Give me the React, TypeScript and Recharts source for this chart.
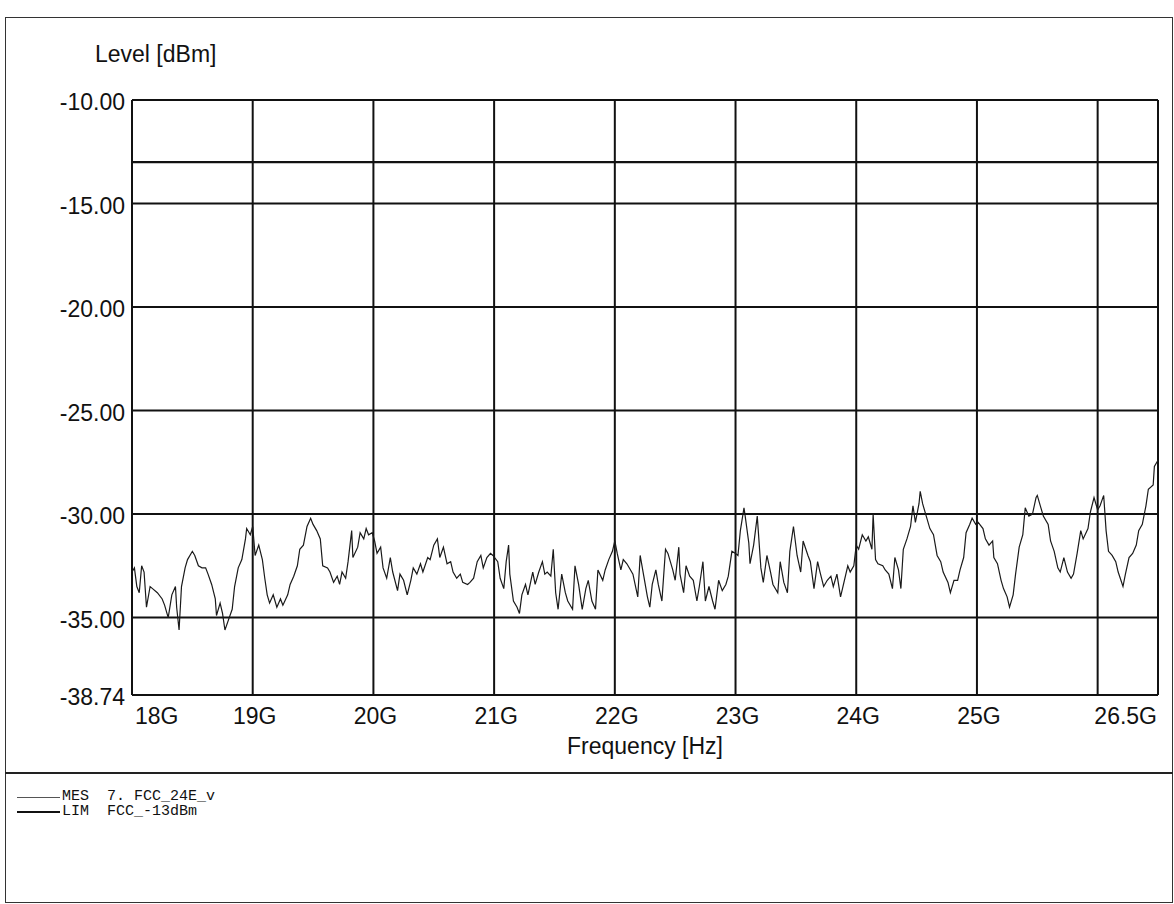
import { CartesianGrid, Line, LineChart, ReferenceLine, XAxis, YAxis } from "recharts";

// MES trace as [GHz, dBm] per stretch of the sweep
const mes18 = [
  [18.0, -32.8], [18.02, -32.6], [18.04, -33.5], [18.06, -33.8], [18.08, -32.5], [18.1, -32.8],
  [18.12, -34.5], [18.15, -33.5], [18.17, -33.6], [18.21, -33.8], [18.25, -34.1], [18.27, -34.4],
  [18.3, -35.0], [18.33, -33.9], [18.36, -33.5], [18.37, -34.5], [18.39, -35.6], [18.41, -33.5],
  [18.44, -32.6], [18.46, -32.2], [18.5, -31.8], [18.52, -32.0], [18.55, -32.5], [18.58, -32.6],
  [18.61, -32.6], [18.63, -32.9], [18.66, -33.4], [18.69, -34.1], [18.7, -34.9], [18.73, -34.3],
  [18.75, -34.8], [18.77, -35.6], [18.8, -35.1], [18.83, -34.6], [18.85, -33.5], [18.88, -32.6],
  [18.91, -32.2], [18.94, -31.2], [18.95, -30.7], [18.98, -31.0], [19.0, -30.6], [19.02, -32.0],
  [19.05, -31.5], [19.08, -32.2], [19.1, -33.1], [19.12, -33.9], [19.14, -34.3], [19.17, -33.9],
  [19.2, -34.5], [19.23, -34.1], [19.25, -34.4], [19.29, -33.9], [19.31, -33.4], [19.34, -33.0],
  [19.37, -32.5], [19.39, -31.7], [19.42, -31.5], [19.45, -30.6], [19.48, -30.2], [19.5, -30.5],
  [19.53, -30.8], [19.56, -31.2], [19.58, -32.5], [19.62, -32.6], [19.64, -32.8], [19.67, -33.3],
  [19.7, -33.0], [19.72, -33.4],
];

const mes20 = [
  [19.74, -32.8], [19.77, -33.1], [19.79, -32.3], [19.82, -30.8], [19.83, -32.1], [19.87, -31.6],
  [19.89, -30.9], [19.92, -31.2], [19.94, -30.7], [19.96, -31.0], [19.99, -30.9], [20.01, -31.3],
  [20.03, -31.9], [20.06, -31.6], [20.08, -32.6], [20.11, -33.1], [20.14, -32.1], [20.16, -32.8],
  [20.2, -33.7], [20.22, -32.9], [20.25, -33.2], [20.28, -33.9], [20.31, -33.2], [20.33, -32.6],
  [20.36, -32.9], [20.39, -32.4], [20.41, -32.8], [20.45, -32.1], [20.47, -32.2], [20.5, -31.5],
  [20.53, -31.2], [20.55, -32.1], [20.58, -31.6], [20.61, -32.4], [20.64, -32.3], [20.66, -32.8],
  [20.69, -33.1], [20.72, -32.9], [20.74, -33.3], [20.78, -33.4], [20.8, -33.3], [20.83, -33.1],
  [20.86, -32.3], [20.89, -32.0], [20.91, -32.6], [20.94, -32.1], [20.97, -31.9], [20.99, -32.0],
  [21.03, -32.3], [21.05, -33.1], [21.08, -33.6], [21.1, -32.3], [21.12, -31.5], [21.13, -32.9],
  [21.16, -34.2], [21.19, -34.5], [21.21, -34.8], [21.23, -33.9], [21.26, -33.4], [21.28, -33.9],
  [21.32, -32.8], [21.34, -33.4], [21.37, -32.8], [21.4, -32.3], [21.42, -32.9],
];

const mes22 = [
  [21.44, -32.8], [21.47, -33.0], [21.49, -31.7], [21.51, -33.8], [21.53, -34.6], [21.56, -32.9],
  [21.59, -33.8], [21.61, -34.2], [21.65, -34.6], [21.67, -32.5], [21.7, -33.4], [21.73, -34.6],
  [21.76, -33.6], [21.78, -33.2], [21.81, -34.2], [21.84, -34.6], [21.86, -32.7], [21.9, -33.2],
  [21.92, -32.7], [21.95, -32.2], [21.98, -31.8], [22.0, -31.3], [22.02, -31.9], [22.05, -32.7],
  [22.07, -32.2], [22.1, -32.4], [22.13, -32.7], [22.15, -32.9], [22.19, -34.0], [22.21, -32.0],
  [22.24, -33.0], [22.27, -34.0], [22.29, -34.5], [22.31, -33.4], [22.34, -32.7], [22.36, -33.4],
  [22.39, -34.2], [22.42, -31.7], [22.44, -31.9], [22.48, -32.7], [22.5, -33.2], [22.53, -31.6],
  [22.54, -32.9], [22.57, -33.8], [22.59, -32.5], [22.62, -33.0], [22.65, -33.2], [22.68, -34.2],
  [22.7, -33.5], [22.73, -32.3], [22.75, -34.2], [22.78, -33.5], [22.81, -34.2], [22.83, -34.6],
  [22.86, -33.2], [22.89, -33.7], [22.92, -33.4], [22.94, -33.0], [22.97, -31.8], [23.0, -31.9],
  [23.02, -32.0], [23.04, -30.8], [23.07, -29.7], [23.08, -30.1], [23.11, -31.4],
];

const mes24 = [
  [23.12, -32.4], [23.15, -31.5], [23.18, -30.1], [23.21, -32.6], [23.23, -33.3], [23.26, -32.0],
  [23.29, -32.8], [23.31, -33.4], [23.35, -33.8], [23.37, -32.3], [23.4, -33.3], [23.43, -33.8],
  [23.45, -31.8], [23.48, -30.6], [23.51, -32.0], [23.54, -32.8], [23.56, -31.3], [23.6, -32.0],
  [23.62, -32.3], [23.65, -33.6], [23.68, -32.3], [23.7, -32.8], [23.73, -33.5], [23.76, -33.2],
  [23.79, -33.0], [23.81, -33.5], [23.84, -32.9], [23.87, -34.0], [23.89, -33.5], [23.93, -32.5],
  [23.95, -32.8], [23.98, -32.5], [24.0, -31.5], [24.02, -31.7], [24.05, -31.0], [24.08, -31.3],
  [24.1, -31.1], [24.13, -31.7], [24.14, -30.0], [24.16, -32.2], [24.18, -32.4], [24.22, -32.5],
  [24.24, -32.7], [24.27, -32.9], [24.3, -33.6], [24.32, -32.1], [24.35, -32.7], [24.37, -33.6],
  [24.39, -31.7], [24.42, -31.2], [24.45, -30.6], [24.47, -29.6], [24.49, -30.4], [24.52, -29.5],
  [24.53, -28.9], [24.55, -29.5], [24.58, -30.1], [24.61, -30.7], [24.64, -31.0], [24.67, -32.0],
  [24.7, -32.3], [24.72, -32.8], [24.76, -33.3], [24.78, -33.8], [24.81, -33.2],
];

const mes26 = [
  [24.84, -33.2], [24.86, -32.7], [24.89, -32.1], [24.91, -30.9], [24.94, -30.5], [24.96, -30.2],
  [24.99, -30.5], [25.01, -30.4], [25.05, -30.7], [25.07, -31.2], [25.1, -31.5], [25.13, -31.3],
  [25.14, -32.1], [25.17, -32.4], [25.2, -33.2], [25.22, -33.6], [25.25, -34.0], [25.27, -34.5],
  [25.3, -33.9], [25.32, -32.9], [25.35, -31.6], [25.38, -31.0], [25.4, -29.7], [25.43, -30.1],
  [25.46, -30.0], [25.49, -29.2], [25.5, -29.1], [25.53, -29.7], [25.55, -30.1], [25.59, -30.5],
  [25.61, -31.3], [25.64, -31.8], [25.67, -32.6], [25.69, -32.8], [25.72, -32.1], [25.75, -32.8],
  [25.78, -33.1], [25.8, -32.9], [25.83, -31.9], [25.86, -30.8], [25.88, -31.2], [25.92, -30.7],
  [25.94, -29.9], [25.97, -29.2], [26.0, -29.8], [26.02, -29.6], [26.05, -29.1], [26.07, -30.8],
  [26.09, -31.8], [26.12, -32.0], [26.15, -32.3], [26.17, -32.8], [26.21, -33.5], [26.23, -32.9],
  [26.26, -32.1], [26.29, -31.9], [26.32, -31.5], [26.34, -30.8], [26.37, -30.5], [26.4, -29.6],
  [26.42, -28.8], [26.46, -28.6], [26.47, -27.7], [26.5, -27.4],
];

const limitDbm = -13;
const xTicks = [18, 19, 20, 21, 22, 23, 24, 25, 26, 26.5];
const xHiddenLabels = [26];
const yTicks = [-38.74, -35, -30, -25, -20, -15, -10];

const data = [...mes18, ...mes20, ...mes22, ...mes24, ...mes26].map(([f, v]) => ({ f, mes: v }));

const sans = '"Liberation Sans", Arial, sans-serif';
const mono = '"Liberation Mono", "Courier New", monospace';

function XTick(props: any) {
  const { x, y, payload } = props;
  const v = payload.value;
  if (xHiddenLabels.includes(v)) return <g />;
  let anchor = "middle";
  let dx = 2;
  if (v === 18) { anchor = "start"; dx = 3; }
  if (v === 26.5) { anchor = "end"; dx = -1; }
  return (
    <text x={x + dx} y={y + 29} textAnchor={anchor} fontFamily={sans} fontSize={23} fill="#111">
      {v}G
    </text>
  );
}

function YTick(props: any) {
  const { x, y, payload } = props;
  return (
    <text x={x - 7} y={y + 10} textAnchor="end" fontFamily={sans} fontSize={23} fill="#111">
      {payload.value.toFixed(2)}
    </text>
  );
}

export default function App() {
  return (
    <div style={{ position: "absolute", left: 0, top: 0, width: 1174, height: 904, background: "#fff" }}>
      <div style={{ position: "absolute", left: 5, top: 17, width: 1166, height: 884, border: "1px solid #333" }} />
      <div style={{ position: "absolute", left: 5, top: 772, width: 1168, borderTop: "2px solid #222" }} />

      <div style={{ position: "absolute", left: 95, top: 42, fontFamily: sans, fontSize: 23, lineHeight: "24px", color: "#111" }}>
        Level [dBm]
      </div>

      <div style={{ position: "absolute", left: 0, top: 0 }}>
        <LineChart width={1174} height={780} data={data} margin={{ top: 100, right: 16, bottom: 0, left: 72 }}>
          <CartesianGrid stroke="#111" strokeWidth={2} />
          <XAxis
            dataKey="f"
            type="number"
            domain={[18, 26.5]}
            ticks={xTicks}
            interval={0}
            height={85}
            axisLine={false}
            tickLine={false}
            tickSize={0}
            tickMargin={0}
            tick={<XTick />}
          />
          <YAxis
            type="number"
            domain={[-38.74, -10]}
            ticks={yTicks}
            interval={0}
            width={60}
            axisLine={false}
            tickLine={false}
            tickSize={0}
            tickMargin={0}
            allowDataOverflow
            tick={<YTick />}
          />
          <ReferenceLine y={limitDbm} stroke="#111" strokeWidth={2.2} />
          <Line
            type="linear"
            dataKey="mes"
            stroke="#1a1a1a"
            strokeWidth={1.2}
            dot={false}
            isAnimationActive={false}
          />
        </LineChart>
      </div>

      <div style={{ position: "absolute", left: 132, width: 1026, top: 734, textAlign: "center", fontFamily: sans, fontSize: 23, lineHeight: "24px", color: "#111" }}>
        Frequency [Hz]
      </div>

      <div style={{ position: "absolute", left: 17, top: 797, width: 43, borderTop: "1px solid #555" }} />
      <div style={{ position: "absolute", left: 62, top: 790, fontFamily: mono, fontSize: 15, lineHeight: "14px", color: "#111", whiteSpace: "pre" }}>
        MES  7. FCC_24E_v
      </div>
      <div style={{ position: "absolute", left: 17, top: 811, width: 43, borderTop: "2px solid #111" }} />
      <div style={{ position: "absolute", left: 62, top: 805, fontFamily: mono, fontSize: 15, lineHeight: "14px", color: "#111", whiteSpace: "pre" }}>
        LIM  FCC_-13dBm
      </div>
    </div>
  );
}
